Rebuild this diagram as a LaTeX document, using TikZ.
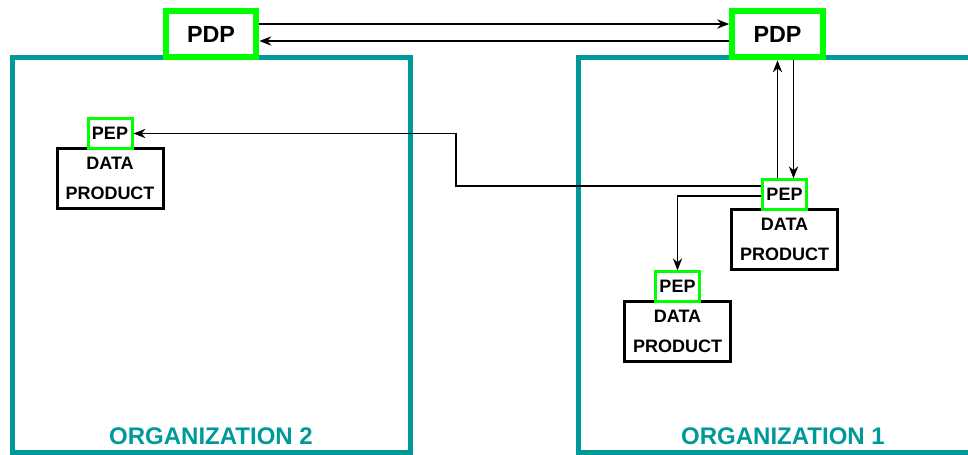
\documentclass[tikz,border=0pt]{standalone}
\usepackage{fontspec}
\setmainfont{Liberation Sans}
\usepackage{xcolor}
\usepackage{tikz}
\usetikzlibrary{positioning, arrows.meta, calc}
\definecolor{tteal}{RGB}{0,153,153}
\definecolor{tlime}{RGB}{0,255,0}

\begin{document}
\begin{tikzpicture}[x=0.75pt, y=-0.75pt, every node/.style={font=\bfseries, inner sep=0pt},
    orgbox/.style={draw=tteal, line width=3.75pt},
    orglabel/.style={text=tteal, font=\fontsize{18}{21}\selectfont\bfseries},
    pdpbox/.style={draw=tlime, line width=4.5pt, fill=white, minimum width=68pt, minimum height=35pt, font=\fontsize{17.5}{21}\selectfont\bfseries},
    pepbox/.style={draw=tlime, line width=2.25pt, fill=white, minimum width=33pt, minimum height=22pt, font=\fontsize{13.5}{16}\selectfont\bfseries},
    dpbox/.style={draw=black, line width=2.25pt, fill=white, minimum width=79.5pt, minimum height=45pt, align=center, font=\fontsize{13.5}{22}\selectfont\bfseries},
    conn/.style={draw=black, line width=1pt, -{Stealth[length=9pt, width=7pt]}}]
    \useasboundingbox (0,0) rectangle (968,454);
    \clip (0,0) rectangle (968,454);
    \node[orgbox, minimum width=298.5pt, minimum height=296.25pt] (org2) at (211,254.5) {};
    \node[orgbox, minimum width=307.5pt, minimum height=296.25pt] (org1) at (783,254.5) {};
    \node[orglabel] (lab2) at ([yshift=14pt]org2.south) {ORGANIZATION 2};
    \node[orglabel] (lab1) at ([yshift=14pt]org1.south) {ORGANIZATION 1};
    \node[pdpbox] (pdpL) at (211,34) {PDP};
    \node[pdpbox] (pdpR) at (777.5,34) {PDP};
    \node[dpbox] (dp2) at (110,178.5) {\raisebox{-2pt}{DATA}\\\raisebox{-2pt}{PRODUCT}};
    \node[dpbox] (dp1) at (784.5,239.5) {\raisebox{-2pt}{DATA}\\\raisebox{-2pt}{PRODUCT}};
    \node[dpbox] (dp3) at (677.5,331.5) {\raisebox{-2pt}{DATA}\\\raisebox{-2pt}{PRODUCT}};
    \node[pepbox, above=-2pt of dp2.north] (pep2) {PEP};
    \node[pepbox, above=-2pt of dp1.north] (pep1) {PEP};
    \node[pepbox, above=-2pt of dp3.north] (pep3) {PEP};
    \coordinate (turn) at (456,150);
    \coordinate (down) at ([xshift=12pt]pdpR.south);
    \draw[conn] ([yshift=7.5pt]pdpL.east) -- ([yshift=7.5pt]pdpR.west);
    \draw[conn] ([yshift=-5.25pt]pdpR.west) -- ([yshift=-5.25pt]pdpL.east);
    \draw[conn] (pep1.north -| pdpR.south) -- (pdpR.south);
    \draw[conn] (down) -- (down |- pep1.north);
    \draw[conn] ([yshift=6.4pt]pep1.west) -| (turn) |- (pep2.east);
    \draw[conn] ([yshift=-1.1pt]pep1.west) -| (pep3.north);
  \end{tikzpicture}
\end{document}
